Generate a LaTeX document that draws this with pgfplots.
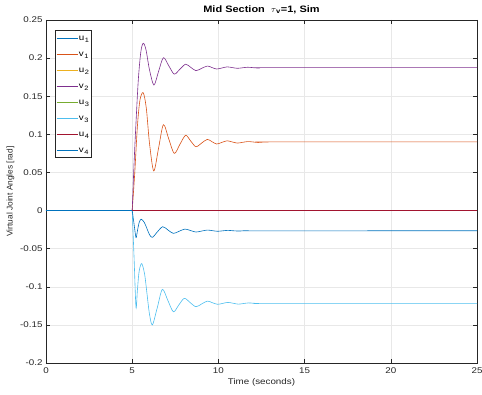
\documentclass[border=0pt]{standalone}
\usepackage{fontspec}
\setmainfont{Liberation Sans}[FakeStretch=1.18]
\newfontfamily\plainsans{Liberation Sans}
\usepackage{pgfplots}
\pgfplotsset{compat=1.18}
\definecolor{cA}{HTML}{0072BD}
\definecolor{cB}{HTML}{D95319}
\definecolor{cC}{HTML}{EDB120}
\definecolor{cD}{HTML}{7E2F8E}
\definecolor{cE}{HTML}{77AC30}
\definecolor{cF}{HTML}{4DBEEE}
\definecolor{cG}{HTML}{A2142F}
\definecolor{axc}{HTML}{262626}
\newcommand{\sub}[1]{\kern0.6pt\lower2.4pt\hbox{\fontsize{6.3}{6.5}\selectfont #1}}
\begin{document}
\begin{tikzpicture}
\path[use as bounding box] (-46pt,-32pt) rectangle (436pt,363pt);
\begin{axis}[
  at={(0,0)}, anchor=south west,
  scale only axis, width=431pt, height=343pt,
  xmin=0, xmax=25, ymin=-0.2, ymax=0.25,
  xtick={0,5,10,15,20,25},
  ytick={-0.2,-0.15,-0.1,-0.05,0,0.05,0.1,0.15,0.2,0.25},
  yticklabels={-0.2,-0.15,-0.1,-0.05,0,0.05,0.1,0.15,0.2,0.25},
  grid=major, grid style={color=black!9, line width=0.5pt},
  tick align=inside, major tick length=4pt,
  axis line style={color=axc, line width=0.5pt},
  every tick/.style={color=axc, line width=0.5pt},
  ticklabel style={font=\fontsize{8.3}{9}\selectfont, color=axc},
  xticklabel style={yshift=-1pt},
  /pgf/number format/assume math mode=true,
  xlabel={Time (seconds)},
  ylabel={\plainsans Virtual Joint Angles [rad]},
  label style={font=\fontsize{8.3}{10}\selectfont, color=axc},
  xlabel style={yshift=2pt},
  ylabel style={yshift=-1pt},
  title={\bfseries Mid Section\ \ $\tau$\textsubscript{v}=1, Sim},
  title style={font=\fontsize{9.3}{10}\selectfont, yshift=-3pt},
  legend cell align=left,
  legend style={at={(0.021,0.971)}, anchor=north west,
    font=\fontsize{8.3}{9}\selectfont, draw=axc, line width=0.5pt,
    inner xsep=1pt, inner ysep=2pt, row sep=4.5pt,
    nodes={inner sep=1pt, text height=7pt, text depth=2.5pt}},
  legend image code/.code={\draw[#1] (0pt,0pt) -- (21pt,0pt);},
  every axis plot/.append style={line width=0.6pt},
]
% u1
\addplot[cA] coordinates {(0,0) (25,0)};
\addlegendentry{u\sub{1}\hspace{3pt}}
% v1
\addplot[cB, forget plot] coordinates {(0,0) (5,0)};
\addplot[cB, smooth] coordinates {
(5,0) (5.15,0.05) (5.3,0.11) (5.45,0.145) (5.64,0.1546) (5.82,0.134) (6.0,0.089)
(6.25,0.052) (6.53,0.082) (6.81,0.1126) (7.12,0.094) (7.44,0.075) (7.77,0.087)
(8.10,0.0987) (8.40,0.091) (8.70,0.0837) (9.03,0.0886) (9.36,0.0934) (9.63,0.0903)
(9.90,0.0873) (10.2,0.0894) (10.5,0.0915) (10.8,0.090) (11.1,0.0885) (11.4,0.0895)
(11.7,0.0905) (12.0,0.090) (12.3,0.0893) (12.6,0.0898) (13.0,0.090) (25,0.09)};
\addlegendentry{v\sub{1}}
% u2
\addplot[cC] coordinates {(0,0) (25,0)};
\addlegendentry{u\sub{2}}
% v2
\addplot[cD, forget plot] coordinates {(0,0) (5,0)};
\addplot[cD, smooth] coordinates {
(5,0) (5.1,0.058) (5.2,0.106) (5.35,0.17) (5.5,0.208) (5.64,0.2195) (5.8,0.211)
(6.0,0.185) (6.26,0.1647) (6.53,0.1826) (6.81,0.2005) (7.12,0.19) (7.44,0.179)
(7.77,0.1855) (8.10,0.192) (8.40,0.1878) (8.70,0.1835) (9.03,0.1866) (9.36,0.1896)
(9.63,0.1876) (9.90,0.1857) (10.2,0.187) (10.5,0.1885) (10.8,0.1876) (11.1,0.1866)
(11.4,0.1873) (11.7,0.188) (12.0,0.1875) (12.3,0.187) (13.0,0.1875) (25,0.1875)};
\addlegendentry{v\sub{2}}
% u3
\addplot[cE] coordinates {(0,0) (25,0)};
\addlegendentry{u\sub{3}}
% v3
\addplot[cF, forget plot] coordinates {(0,0) (5,0)};
\addplot[cF, smooth] coordinates {
(5,0) (5.11,-0.063) (5.22,-0.127) (5.3,-0.105) (5.4,-0.08) (5.55,-0.0695)
(5.72,-0.0835) (5.86,-0.1095) (6.0,-0.1355) (6.17,-0.150) (6.46,-0.127)
(6.75,-0.1034) (7.07,-0.118) (7.39,-0.1328) (7.70,-0.124) (8.02,-0.1152)
(8.36,-0.1207) (8.70,-0.1262) (9.03,-0.1225) (9.36,-0.1188) (9.65,-0.1209)
(9.95,-0.123) (10.25,-0.1218) (10.55,-0.1205) (10.85,-0.1216) (11.15,-0.1228)
(11.45,-0.122) (11.75,-0.1212) (12.05,-0.1216) (12.35,-0.122) (13.0,-0.1218) (25,-0.1218)};
\addlegendentry{v\sub{3}}
% u4
\addplot[cG] coordinates {(0,0) (25,0)};
\addlegendentry{u\sub{4}}
% v4
\addplot[cA, forget plot] coordinates {(0,0) (5,0)};
\addplot[cA, smooth] coordinates {
(5,0) (5.11,-0.018) (5.22,-0.0355) (5.3,-0.027) (5.4,-0.016) (5.52,-0.0113)
(5.7,-0.0155) (5.85,-0.0233) (6.0,-0.0315) (6.17,-0.0352) (6.46,-0.028)
(6.77,-0.0212) (7.08,-0.0256) (7.39,-0.030) (7.72,-0.0272) (8.06,-0.0243)
(8.38,-0.0262) (8.70,-0.0282) (9.03,-0.0269) (9.36,-0.0256) (9.65,-0.0264)
(9.95,-0.0272) (10.25,-0.0266) (10.55,-0.026) (10.85,-0.0265) (11.15,-0.0269)
(11.45,-0.0266) (11.75,-0.0263) (12.4,-0.0266) (25,-0.0265)};
\addlegendentry{v\sub{4}}
\end{axis}
\end{tikzpicture}
\end{document}
